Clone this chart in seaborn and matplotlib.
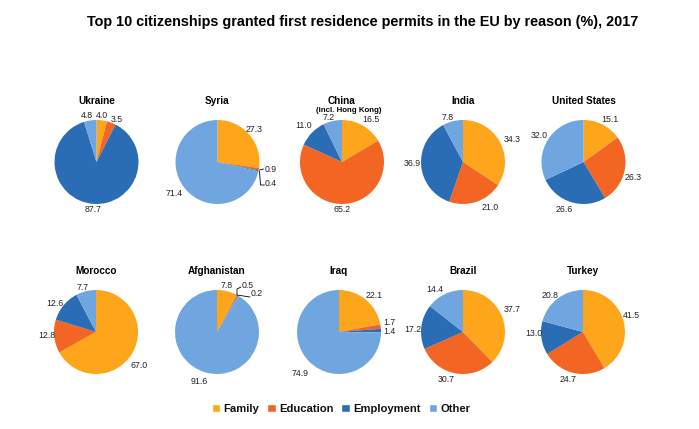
import matplotlib
matplotlib.use("Agg")
import matplotlib.pyplot as plt
from matplotlib.patches import Patch
import seaborn as sns

sns.set_theme(style="white")
plt.rcParams['font.family'] = ['Liberation Sans', 'DejaVu Sans']

title = "Top 10 citizenships granted first residence permits in the EU by reason (%), 2017"
reasons = ["Family", "Education", "Employment", "Other"]
colors = ["#FDA51B", "#F26522", "#2A6DB5", "#70A6E0"]

ukraine = [4.0, 3.5, 87.7, 4.8]
syria = [27.3, 0.9, 0.4, 71.4]
china = [16.5, 65.2, 11.0, 7.2]
india = [34.3, 21.0, 36.9, 7.8]
usa = [15.1, 26.3, 26.6, 32.0]
morocco = [67.0, 12.8, 12.6, 7.7]
afghanistan = [7.8, 0.5, 0.2, 91.6]
iraq = [22.1, 1.7, 1.4, 74.9]
brazil = [37.7, 30.7, 17.2, 14.4]
turkey = [41.5, 24.7, 13.0, 20.8]

names = ["Ukraine", "Syria", "China", "India", "United States",
         "Morocco", "Afghanistan", "Iraq", "Brazil", "Turkey"]
series = [ukraine, syria, china, india, usa, morocco, afghanistan, iraq, brazil, turkey]

# layout (pixels)
W, H = 699, 429
R = 42
centers = [(96.5, 162), (217.5, 162), (342, 162), (463, 162), (583.5, 162),
           (96, 332), (217, 332), (339, 332), (463, 332), (583, 332)]
title_y = [100.5, 100.5, 100.5, 100.5, 100.5, 270.5, 270.5, 270.5, 270.5, 270.5]
# label positions, pixel offsets from the pie centre (x right, y up)
label_pos = {
    ("Ukraine", 0): (5, 47), ("Ukraine", 1): (20, 43), ("Ukraine", 2): (-3, -48), ("Ukraine", 3): (-10, 47),
    ("Syria", 0): (37, 32), ("Syria", 1): (53, -7), ("Syria", 2): (53, -22), ("Syria", 3): (-43, -32),
    ("China", 0): (29, 42), ("China", 1): (0, -47), ("China", 2): (-38, 37), ("China", 3): (-13, 45),
    ("India", 0): (49, 23), ("India", 1): (27, -46), ("India", 2): (-51, -1), ("India", 3): (-15, 44),
    ("United States", 0): (26, 42), ("United States", 1): (50, -16), ("United States", 2): (-19, -48), ("United States", 3): (-44, 26),
    ("Morocco", 0): (43, -33), ("Morocco", 1): (-49, -3), ("Morocco", 2): (-41, 29), ("Morocco", 3): (-13, 44),
    ("Afghanistan", 0): (10, 47), ("Afghanistan", 1): (31, 47), ("Afghanistan", 2): (40, 38), ("Afghanistan", 3): (-18, -49),
    ("Iraq", 0): (35, 36), ("Iraq", 1): (50, 9.5), ("Iraq", 2): (50, 0.5), ("Iraq", 3): (-39, -41),
    ("Brazil", 0): (49, 22), ("Brazil", 1): (-17, -48), ("Brazil", 2): (-50, 3), ("Brazil", 3): (-28, 42),
    ("Turkey", 0): (48, 16), ("Turkey", 1): (-15, -48), ("Turkey", 2): (-49, -2), ("Turkey", 3): (-33, 37),
}
# leader lines for tiny slices, pixel offsets from pie centre
leaders = {
    ("Syria", 1): [(42, -8), (46, -7)],
    ("Syria", 2): [(42, -9), (43, -23), (47, -23)],
    ("Afghanistan", 1): [(20, 37), (20, 43), (24, 45)],
    ("Afghanistan", 2): [(20, 37), (33, 35)],
}

fig = plt.figure(figsize=(W / 100, H / 100), dpi=100, facecolor="white")
box = R * 2 * 1.25
TXT = "#222222"
for name, vals, (cx, cy), ty in zip(names, series, centers, title_y):
    ax = fig.add_axes([(cx - box / 2) / W, 1 - (cy + box / 2) / H, box / W, box / H])
    ax.pie(vals, colors=colors, startangle=90, counterclock=False,
           wedgeprops=dict(linewidth=0))
    scale = 1 / R
    for i, v in enumerate(vals):
        dx, dy = label_pos[(name, i)]
        ax.text(dx * scale, dy * scale, f"{v:.1f}", ha="center", va="center",
                fontsize=6.3, color=TXT)
    for (n, i), pts in leaders.items():
        if n == name:
            ax.plot([p[0] * scale for p in pts], [p[1] * scale for p in pts],
                    color="black", lw=0.6, clip_on=False)
    fig.text(cx / W, 1 - ty / H, name, ha="center", va="center",
             fontsize=7.2, fontweight="bold", color="black")

fig.text(349 / W, 1 - 110.5 / H, "(incl. Hong Kong)", ha="center", va="center",
         fontsize=5.7, fontweight="bold", color="black")
fig.text(363 / W, 1 - 22 / H, title, ha="center", va="center",
         fontsize=10.35, fontweight="bold", color="black")

handles = [Patch(facecolor=c, label=r) for c, r in zip(colors, reasons)]
fig.legend(handles=handles, loc="center", bbox_to_anchor=(341 / W, 1 - 409 / H), ncol=4,
           frameon=False, prop=dict(size=8.1, weight="bold"), handlelength=0.75, handleheight=0.75,
           handletextpad=0.3, columnspacing=0.7, labelcolor="#111111")
fig.savefig("out.png", dpi=100)
